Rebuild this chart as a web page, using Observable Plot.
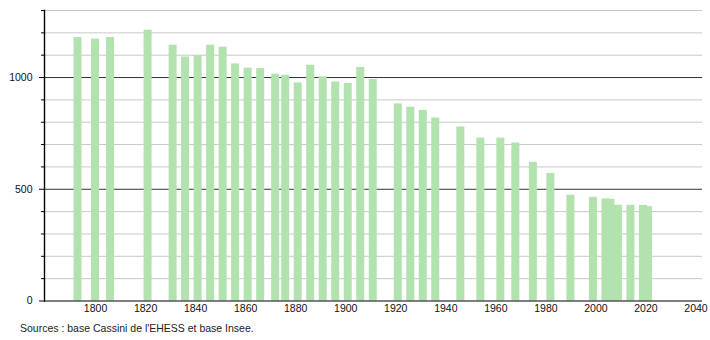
<!DOCTYPE html>
<html>
<head>
<meta charset="utf-8">
<script src="https://cdn.jsdelivr.net/npm/d3@7"></script>
<script src="https://cdn.jsdelivr.net/npm/@observablehq/plot@0.6"></script>
<style>
  html, body { margin: 0; padding: 0; background: #fff; }
  #chart svg { display: block; }
  #caption { font: 10.5px "Liberation Sans", Arial, sans-serif; color: #222; margin: 3px 0 0 20px; line-height: 14px; }
</style>
</head>
<body>
<div id="chart"></div>
<div id="caption">Sources : base Cassini de l'EHESS et base Insee.</div>
<script>
const years = [1793, 1800, 1806, 1821, 1831, 1836, 1841, 1846, 1851, 1856, 1861, 1866, 1872, 1876, 1881, 1886, 1891, 1896, 1901, 1906, 1911, 1921, 1926, 1931, 1936, 1946, 1954, 1962, 1968, 1975, 1982, 1990, 1999, 2004, 2006, 2009, 2014, 2019, 2021];
const population = [1179, 1172, 1179, 1212, 1145, 1092, 1098, 1145, 1136, 1061, 1042, 1040, 1015, 1010, 976, 1055, 1003, 980, 974, 1045, 991, 882, 867, 853, 819, 779, 729, 729, 707, 621, 571, 473, 464, 457, 455, 428, 428, 428, 422];
const xTicks = [1800, 1820, 1840, 1860, 1880, 1900, 1920, 1940, 1960, 1980, 2000, 2020, 2040];
const yMajor = [0, 500, 1000];
const yMinor = [100, 200, 300, 400, 600, 700, 800, 900, 1100, 1200, 1300];

const data = years.map((y, i) => ({year: y, pop: population[i]}));
const halfWidth = 1.6;

const chart = Plot.plot({
  width: 710,
  height: 318,
  marginLeft: 44,
  marginRight: 8,
  marginTop: 10,
  marginBottom: 17.5,
  style: {fontFamily: "'Liberation Sans', Arial, sans-serif", fontSize: "10.5px", color: "#111", background: "#fff"},
  x: {domain: [1779.6, 2042.6], label: null},
  y: {domain: [0, 1300], label: null},
  marks: [
    Plot.ruleY(yMinor, {stroke: "#c8c8c8", strokeWidth: 1}),
    Plot.ruleY([500, 1000], {stroke: "#333", strokeWidth: 1}),
    Plot.rectY(data, {x1: d => d.year - halfWidth, x2: d => d.year + halfWidth, y1: 0, y2: "pop", fill: "#b2e3ae"}),
    Plot.axisY(yMinor, {tickSize: 3, tickFormat: () => "", stroke: "#000", label: null}),
    Plot.axisY(yMajor, {tickSize: 5, tickPadding: 7, stroke: "#000", fill: "#111", tickFormat: d => String(d), label: null}),
    Plot.axisX(xTicks, {tickSize: 0, tickPadding: 4, tickFormat: d => String(d), fill: "#111", label: null}),
    Plot.ruleY([0], {stroke: "#000", strokeWidth: 1.2}),
    Plot.frame({anchor: "left", stroke: "#000", strokeWidth: 1.4})
  ]
});
document.getElementById("chart").appendChild(chart);
</script>
</body>
</html>
